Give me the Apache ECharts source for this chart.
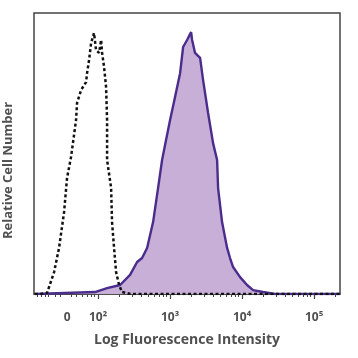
<!DOCTYPE html>
<html>
<head>
<meta charset="utf-8">
<script src="https://cdn.jsdelivr.net/npm/echarts@6/dist/echarts.min.js"></script>
<style>html,body{margin:0;padding:0;background:#fff}#c{width:358px;height:358px}</style>
</head>
<body>
<div id="c"></div>
<script>
// x values are in display units: decade position (10^2 -> 2, 10^3 -> 3 ...), "0" sits at 1.57
var xMin = 1.11, xMax = 5.36;
var tickLabelValues = [1.57, 2, 3, 4, 5];
var tickLabelTexts = ['0', '10\u00b2', '10\u00b3', '10\u2074', '10\u2075'];
var minorTickValues = [1.16, 1.21, 1.26, 1.31, 1.40, 1.48, 1.63, 1.70, 1.78, 1.85, 1.90, 1.95,
  2.30, 2.48, 2.60, 2.70, 2.78, 2.85, 2.90, 2.95,
  3.30, 3.48, 3.60, 3.70, 3.78, 3.85, 3.90, 3.95,
  4.30, 4.48, 4.60, 4.70, 4.78, 4.85, 4.90, 4.95, 5.30];

var controlX = [1.12, 1.20, 1.292, 1.389, 1.458, 1.528, 1.569, 1.625, 1.694, 1.708, 1.764, 1.833, 1.847, 1.875, 1.903, 1.944, 1.972, 2.014, 2.042, 2.056, 2.083, 2.111, 2.125, 2.125, 2.181, 2.194, 2.222, 2.25, 2.292, 2.333, 2.45, 5.36];
var controlY = [0, 0, 0.4, 7.8, 16.4, 29.2, 41.3, 48.8, 61.9, 68.0, 72.6, 75.4, 78.6, 83.3, 89.3, 92.9, 86.8, 85.8, 90.4, 85.8, 80.8, 73.7, 61.9, 47.7, 37.7, 25.6, 16.4, 7.8, 3.2, 0.7, 0, 0];

var stainedX = [1.12, 1.958, 2.125, 2.306, 2.444, 2.542, 2.611, 2.681, 2.764, 2.833, 2.889, 2.944, 3.0, 3.069, 3.139, 3.181, 3.236, 3.292, 3.306, 3.347, 3.417, 3.458, 3.528, 3.597, 3.653, 3.667, 3.722, 3.792, 3.833, 3.875, 3.972, 4.069, 4.153, 4.292, 4.458, 5.36];
var stainedY = [0, 0.7, 2.1, 3.2, 6.8, 11.4, 12.8, 16.4, 25.6, 37.7, 47.7, 54.8, 61.9, 70.1, 78.6, 87.9, 90.4, 93.2, 90.4, 85.8, 84.0, 76.2, 64.4, 53.7, 47.7, 37.7, 25.6, 16.4, 12.8, 9.6, 6.0, 3.2, 1.4, 0.7, 0, 0];

function pairs(xs, ys) { return xs.map(function (x, i) { return [x, ys[i]]; }); }

var chart = echarts.init(document.getElementById('c'), null, {renderer: 'canvas'});
chart.setOption({
  animation: false,
  backgroundColor: '#fff',
  grid: {left: 34, right: 18, top: 13, bottom: 64, show: true, borderColor: '#444', borderWidth: 1.5, backgroundColor: 'transparent', containLabel: false, outerBoundsMode: 'none'},
  xAxis: [{
    type: 'value', min: xMin, max: xMax,
    name: 'Log Fluorescence Intensity', nameLocation: 'middle', nameGap: 39,
    nameTextStyle: {fontFamily: 'Open Sans', fontSize: 14, fontWeight: 'bold', color: '#505050'},
    axisLine: {show: true, onZero: false, lineStyle: {color: '#444', width: 1.5}},
    axisTick: {show: true, length: 5, customValues: tickLabelValues.slice(1), lineStyle: {color: '#444', width: 1.2}},
    axisLabel: {customValues: tickLabelValues, margin: 18, fontFamily: 'Open Sans', fontSize: 12, fontWeight: 'bold', color: '#505050',
      formatter: function (v) { var i = tickLabelValues.indexOf(v); return i >= 0 ? tickLabelTexts[i] : ''; }},
    splitLine: {show: false}
  }, {
    type: 'value', min: xMin, max: xMax, position: 'bottom',
    axisLine: {show: false},
    axisTick: {show: true, length: 3, customValues: minorTickValues, lineStyle: {color: '#444', width: 1}},
    axisLabel: {show: false},
    splitLine: {show: false}
  }],
  yAxis: {
    type: 'value', min: 0, max: 100,
    name: 'Relative Cell Number', nameLocation: 'middle', nameGap: 19,
    nameTextStyle: {fontFamily: 'Open Sans', fontSize: 13, fontWeight: 'bold', color: '#505050', padding: [0, 34, 0, 0]},
    axisLine: {show: false}, axisTick: {show: false}, axisLabel: {show: false}, splitLine: {show: false}
  },
  series: [{
    type: 'line', data: pairs(stainedX, stainedY), showSymbol: false, smooth: false,
    lineStyle: {color: '#4a2c8c', width: 2.4},
    areaStyle: {color: '#c8afd8', opacity: 1},
    z: 2
  }, {
    type: 'line', data: pairs(controlX, controlY), showSymbol: false, smooth: false,
    lineStyle: {color: '#111', width: 2.5, type: [3, 2.5]},
    z: 3
  }]
});
</script>
</body>
</html>
